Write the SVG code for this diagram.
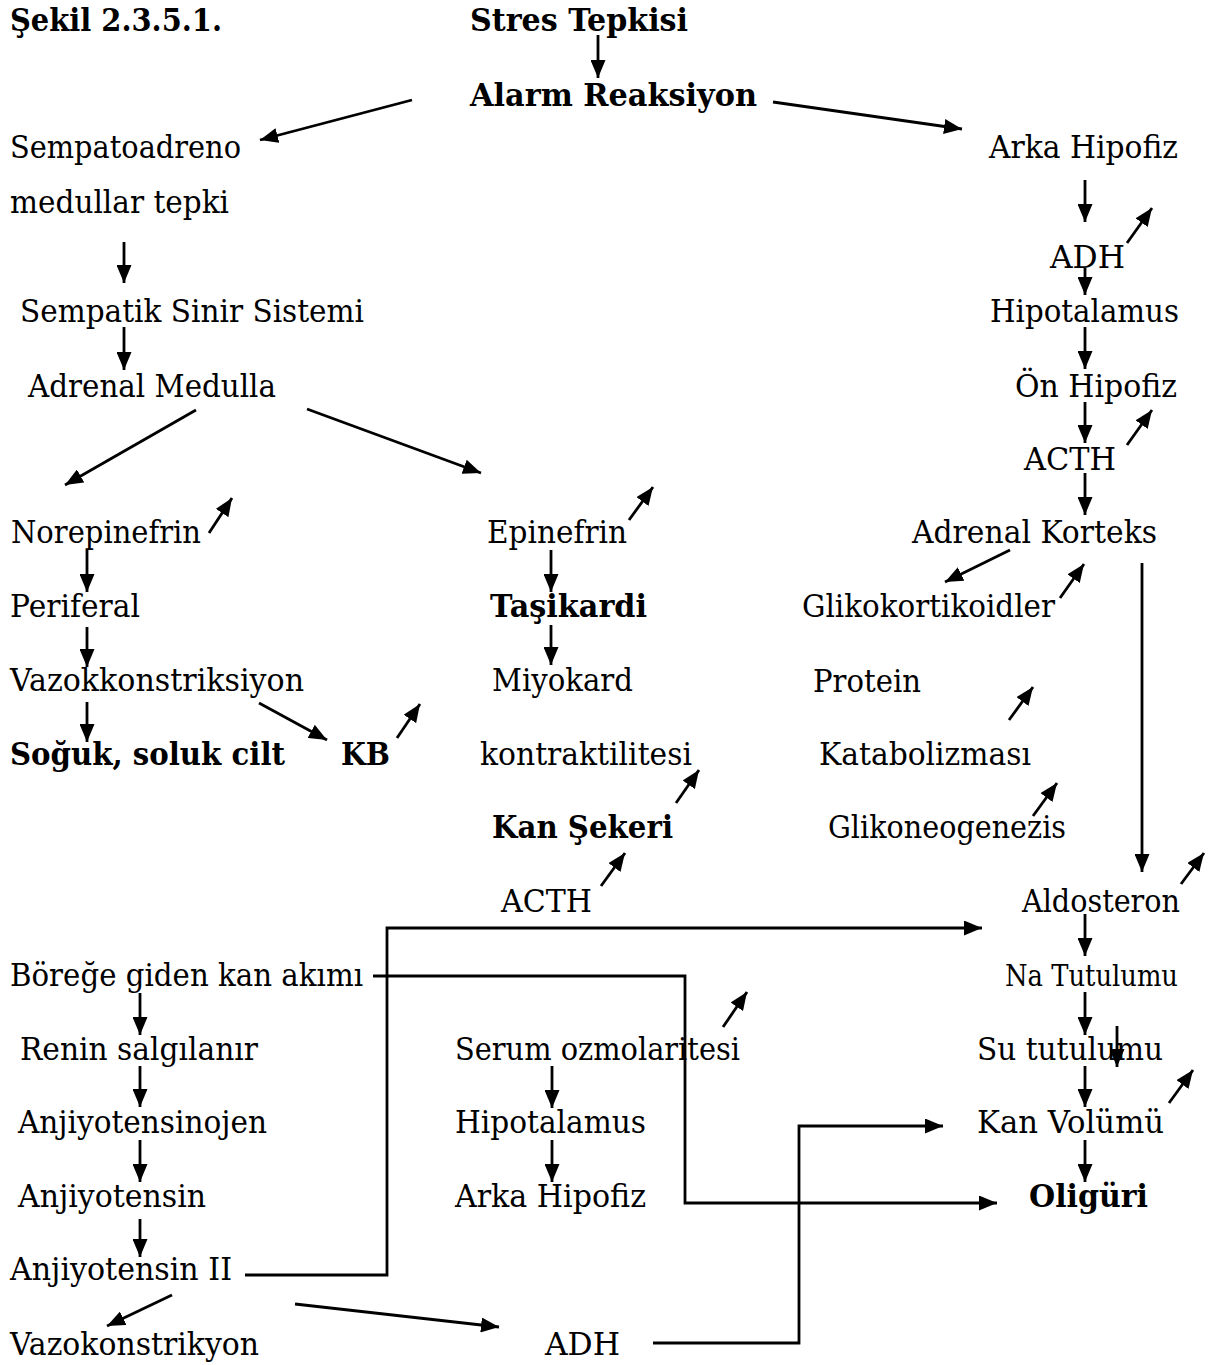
<svg xmlns="http://www.w3.org/2000/svg" width="1209" height="1365" viewBox="0 0 1209 1365">
<style>
text{font-family:"DejaVu Serif","Liberation Serif",serif;font-size:32px;fill:#000}
.b{font-weight:bold}
.s{font-size:30px}
.c{stroke:#000;stroke-width:2.8;fill:none}
.a{marker-end:url(#ah)}
</style>
<defs>
<marker id="ah" markerUnits="userSpaceOnUse" markerWidth="18" markerHeight="15" refX="18" refY="7.5" orient="auto">
<path d="M0,0 L18,7.5 L0,15 z" fill="#000"/>
</marker>
</defs>
<rect width="1209" height="1365" fill="#fff"/>
<g id="nodes">
<g id="n-sekil"><text class="b" x="10" y="31" textLength="212" lengthAdjust="spacingAndGlyphs">Şekil 2.3.5.1.</text></g>
<g id="n-stres"><text class="b" x="470" y="31" textLength="218" lengthAdjust="spacingAndGlyphs">Stres Tepkisi</text></g>
<g id="n-alarm"><text class="b" x="470" y="106" textLength="287" lengthAdjust="spacingAndGlyphs">Alarm Reaksiyon</text></g>
<g id="n-sempato"><text x="10" y="158" textLength="231" lengthAdjust="spacingAndGlyphs">Sempatoadreno</text><text x="10" y="213" textLength="219" lengthAdjust="spacingAndGlyphs">medullar tepki</text></g>
<g id="n-sss"><text x="20" y="322" textLength="344" lengthAdjust="spacingAndGlyphs">Sempatik Sinir Sistemi</text></g>
<g id="n-admed"><text x="28" y="397" textLength="248" lengthAdjust="spacingAndGlyphs">Adrenal Medulla</text></g>
<g id="n-norepi"><text x="11" y="543" textLength="190" lengthAdjust="spacingAndGlyphs">Norepinefrin</text></g>
<g id="n-epi"><text x="487" y="543" textLength="140" lengthAdjust="spacingAndGlyphs">Epinefrin</text></g>
<g id="n-periferal"><text x="10" y="617" textLength="130" lengthAdjust="spacingAndGlyphs">Periferal</text></g>
<g id="n-tasikardi"><text class="b" x="490" y="617" textLength="157" lengthAdjust="spacingAndGlyphs">Taşikardi</text></g>
<g id="n-vazokk"><text x="10" y="691" textLength="294" lengthAdjust="spacingAndGlyphs">Vazokkonstriksiyon</text></g>
<g id="n-miyokard"><text x="492" y="691" textLength="141" lengthAdjust="spacingAndGlyphs">Miyokard</text><text x="480" y="765" textLength="212" lengthAdjust="spacingAndGlyphs">kontraktilitesi</text></g>
<g id="n-soguk"><text class="b" x="10" y="765" textLength="275" lengthAdjust="spacingAndGlyphs">Soğuk, soluk cilt</text></g>
<g id="n-kb"><text class="b" x="341" y="765" textLength="49" lengthAdjust="spacingAndGlyphs">KB</text></g>
<g id="n-kanseker"><text class="b" x="492" y="838" textLength="181" lengthAdjust="spacingAndGlyphs">Kan Şekeri</text></g>
<g id="n-acth2"><text x="501" y="912" textLength="91" lengthAdjust="spacingAndGlyphs">ACTH</text></g>
<g id="n-arka1"><text x="989" y="158" textLength="189" lengthAdjust="spacingAndGlyphs">Arka Hipofiz</text></g>
<g id="n-adh1"><text x="1050" y="268" textLength="75" lengthAdjust="spacingAndGlyphs">ADH</text></g>
<g id="n-hipo1"><text x="990" y="322" textLength="189" lengthAdjust="spacingAndGlyphs">Hipotalamus</text></g>
<g id="n-on"><text x="1015" y="397" textLength="162" lengthAdjust="spacingAndGlyphs">Ön Hipofiz</text></g>
<g id="n-acth1"><text x="1024" y="470" textLength="92" lengthAdjust="spacingAndGlyphs">ACTH</text></g>
<g id="n-adkor"><text x="912" y="543" textLength="245" lengthAdjust="spacingAndGlyphs">Adrenal Korteks</text></g>
<g id="n-gliko"><text x="802" y="617" textLength="253" lengthAdjust="spacingAndGlyphs">Glikokortikoidler</text></g>
<g id="n-protein"><text x="813" y="692" textLength="108" lengthAdjust="spacingAndGlyphs">Protein</text><text x="819" y="765" textLength="212" lengthAdjust="spacingAndGlyphs">Katabolizması</text></g>
<g id="n-glikoneo"><text x="828" y="838" textLength="238" lengthAdjust="spacingAndGlyphs">Glikoneogenezis</text></g>
<g id="n-aldo"><text x="1022" y="912" textLength="158" lengthAdjust="spacingAndGlyphs">Aldosteron</text></g>
<g id="n-na"><text class="s" x="1005" y="986" textLength="173" lengthAdjust="spacingAndGlyphs">Na Tutulumu</text></g>
<g id="n-su"><text x="977" y="1060" textLength="186" lengthAdjust="spacingAndGlyphs">Su tutulumu</text></g>
<g id="n-kanvol"><text x="977" y="1133" textLength="187" lengthAdjust="spacingAndGlyphs">Kan Volümü</text></g>
<g id="n-oliguri"><text class="b" x="1029" y="1207" textLength="119" lengthAdjust="spacingAndGlyphs">Oligüri</text></g>
<g id="n-borege"><text x="10" y="986" textLength="353" lengthAdjust="spacingAndGlyphs">Böreğe giden kan akımı</text></g>
<g id="n-renin"><text x="20" y="1060" textLength="238" lengthAdjust="spacingAndGlyphs">Renin salgılanır</text></g>
<g id="n-anjojen"><text x="18" y="1133" textLength="249" lengthAdjust="spacingAndGlyphs">Anjiyotensinojen</text></g>
<g id="n-anj"><text x="18" y="1207" textLength="188" lengthAdjust="spacingAndGlyphs">Anjiyotensin</text></g>
<g id="n-anj2"><text x="10" y="1280" textLength="222" lengthAdjust="spacingAndGlyphs">Anjiyotensin II</text></g>
<g id="n-vazok"><text x="10" y="1355" textLength="249" lengthAdjust="spacingAndGlyphs">Vazokonstrikyon</text></g>
<g id="n-serum"><text x="455" y="1060" textLength="285" lengthAdjust="spacingAndGlyphs">Serum ozmolaritesi</text></g>
<g id="n-hipo2"><text x="455" y="1133" textLength="191" lengthAdjust="spacingAndGlyphs">Hipotalamus</text></g>
<g id="n-arka2"><text x="455" y="1207" textLength="191" lengthAdjust="spacingAndGlyphs">Arka Hipofiz</text></g>
<g id="n-adh2"><text x="545" y="1355" textLength="75" lengthAdjust="spacingAndGlyphs">ADH</text></g>
</g>
<g id="connectors" class="c">
<line class="a" x1="598" y1="35" x2="598" y2="78"/>
<line class="a" x1="412" y1="100" x2="260" y2="140"/>
<line class="a" x1="773" y1="102" x2="962" y2="129"/>
<line class="a" x1="124" y1="242" x2="124" y2="283"/>
<line class="a" x1="124" y1="327" x2="124" y2="370"/>
<line class="a" x1="196" y1="410" x2="65" y2="485"/>
<line class="a" x1="307" y1="409" x2="481" y2="473"/>
<line class="a" x1="209" y1="533" x2="232" y2="498"/>
<line class="a" x1="629" y1="520" x2="653" y2="487"/>
<line class="a" x1="87" y1="550" x2="87" y2="592"/>
<line class="a" x1="87" y1="627" x2="87" y2="667"/>
<line class="a" x1="87" y1="702" x2="87" y2="742"/>
<line class="a" x1="259" y1="703" x2="327" y2="740"/>
<line class="a" x1="397" y1="738" x2="420" y2="704"/>
<line class="a" x1="551" y1="550" x2="551" y2="592"/>
<line class="a" x1="551" y1="625" x2="551" y2="665"/>
<line class="a" x1="676" y1="803" x2="699" y2="770"/>
<line class="a" x1="601" y1="886" x2="625" y2="853"/>
<line class="a" x1="1085" y1="180" x2="1085" y2="222"/>
<line class="a" x1="1127" y1="243" x2="1152" y2="208"/>
<line class="a" x1="1085" y1="268" x2="1085" y2="295"/>
<line class="a" x1="1085" y1="327" x2="1085" y2="369"/>
<line class="a" x1="1085" y1="402" x2="1085" y2="443"/>
<line class="a" x1="1127" y1="445" x2="1152" y2="410"/>
<line class="a" x1="1085" y1="473" x2="1085" y2="515"/>
<line class="a" x1="1010" y1="550" x2="945" y2="582"/>
<line class="a" x1="1060" y1="598" x2="1084" y2="564"/>
<line class="a" x1="1009" y1="720" x2="1033" y2="687"/>
<line class="a" x1="1033" y1="816" x2="1057" y2="783"/>
<line class="a" x1="1142" y1="563" x2="1142" y2="872"/>
<line class="a" x1="1181" y1="884" x2="1204" y2="853"/>
<line class="a" x1="1085" y1="914" x2="1085" y2="956"/>
<line class="a" x1="1085" y1="992" x2="1085" y2="1035"/>
<line class="a" x1="1117" y1="1026" x2="1117" y2="1067"/>
<line class="a" x1="1085" y1="1066" x2="1085" y2="1107"/>
<line class="a" x1="1169" y1="1103" x2="1193" y2="1070"/>
<line class="a" x1="1085" y1="1140" x2="1085" y2="1182"/>
<line class="a" x1="140" y1="993" x2="140" y2="1035"/>
<line class="a" x1="140" y1="1066" x2="140" y2="1107"/>
<line class="a" x1="140" y1="1140" x2="140" y2="1182"/>
<line class="a" x1="140" y1="1219" x2="140" y2="1257"/>
<line class="a" x1="172" y1="1295" x2="107" y2="1326"/>
<line class="a" x1="295" y1="1304" x2="499" y2="1327"/>
<line class="a" x1="723" y1="1027" x2="747" y2="992"/>
<line class="a" x1="552" y1="1066" x2="552" y2="1108"/>
<line class="a" x1="552" y1="1140" x2="552" y2="1182"/>
<polyline class="a" points="245,1275 387,1275 387,928 982,928"/>
<polyline class="a" points="373,976 685,976 685,1203 997,1203"/>
<polyline class="a" points="653,1343 799,1343 799,1126 943,1126"/>
</g>
</svg>
